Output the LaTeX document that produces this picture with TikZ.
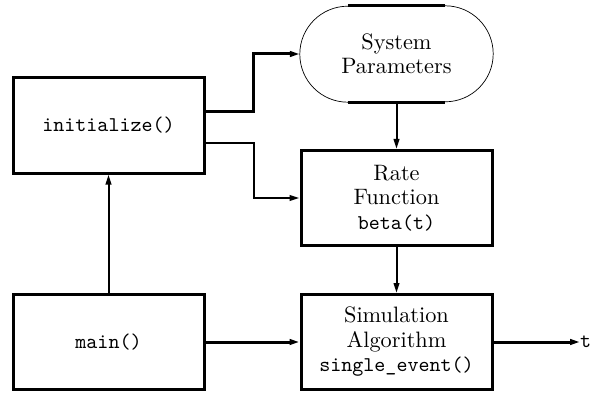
\documentclass[tikz,border=0pt]{standalone}
\usepackage{graphicx}
\usetikzlibrary{arrows.meta,calc}
\newcommand\rmx[1]{\scalebox{2.23}{#1}}
\newcommand\ttx[1]{\scalebox{2.1}{\ttfamily #1}}
\begin{document}
\begin{tikzpicture}[x=1pt,y=1pt,
  box/.style={draw,line width=3pt,minimum width=191pt,minimum height=95pt,inner sep=0pt,align=center,font=\fontsize{10}{24.5}\selectfont},
  conn/.style={line width=2pt,-{Triangle[length=10pt,width=5.5pt]}},
  thickconn/.style={line width=3pt,-{Triangle[length=10pt,width=5.5pt]}},
  flat/.style={line width=3pt},
  curve/.style={line width=0.7pt}]
\useasboundingbox (0,0) rectangle (593,394);
\node[box] (init) at (108.5,268.5) {\ttx{initialize()}};
\node[box] (main) at (108.5,52) {\ttx{main()}};
\node[box] (rate) at (396.5,196) {\rmx{Rate}\\\rmx{Function}\\\ttx{beta(t)}};
\node[box] (sim) at (396.5,52) {\rmx{Simulation}\\\rmx{Algorithm}\\\ttx{single\_event()}};
\node[minimum width=193pt,minimum height=96pt,inner sep=0pt,align=center,font=\fontsize{10}{24.5}\selectfont] (sp) at (396.5,340) {\rmx{System}\\\rmx{Parameters}};
\node[anchor=west,inner sep=0pt] (t) at (580,52) {\ttx{t}};
% stadium outline
\draw[flat] ($(sp.north west)+(48,0)$) -- ($(sp.north east)+(-48,0)$);
\draw[flat] ($(sp.south west)+(48,0)$) -- ($(sp.south east)+(-48,0)$);
\draw[curve] ($(sp.north east)+(-48,0)$) arc[start angle=90,end angle=-90,radius=48];
\draw[curve] ($(sp.south west)+(48,0)$) arc[start angle=270,end angle=90,radius=48];
% connectors
\draw[thickconn] ($(init.east)+(0,14)$) -- ++(48,0) |- (sp.west);
\draw[conn] ($(init.east)+(0,-17.5)$) -- ++(48,0) |- (rate.west);
\draw[conn] (sp.south) -- (rate.north);
\draw[conn] (rate.south) -- (sim.north);
\draw[conn] (main.north) -- (init.south);
\draw[thickconn] (main.east) -- (sim.west);
\draw[thickconn] (sim.east) -- (t.west);
\end{tikzpicture}
\end{document}
